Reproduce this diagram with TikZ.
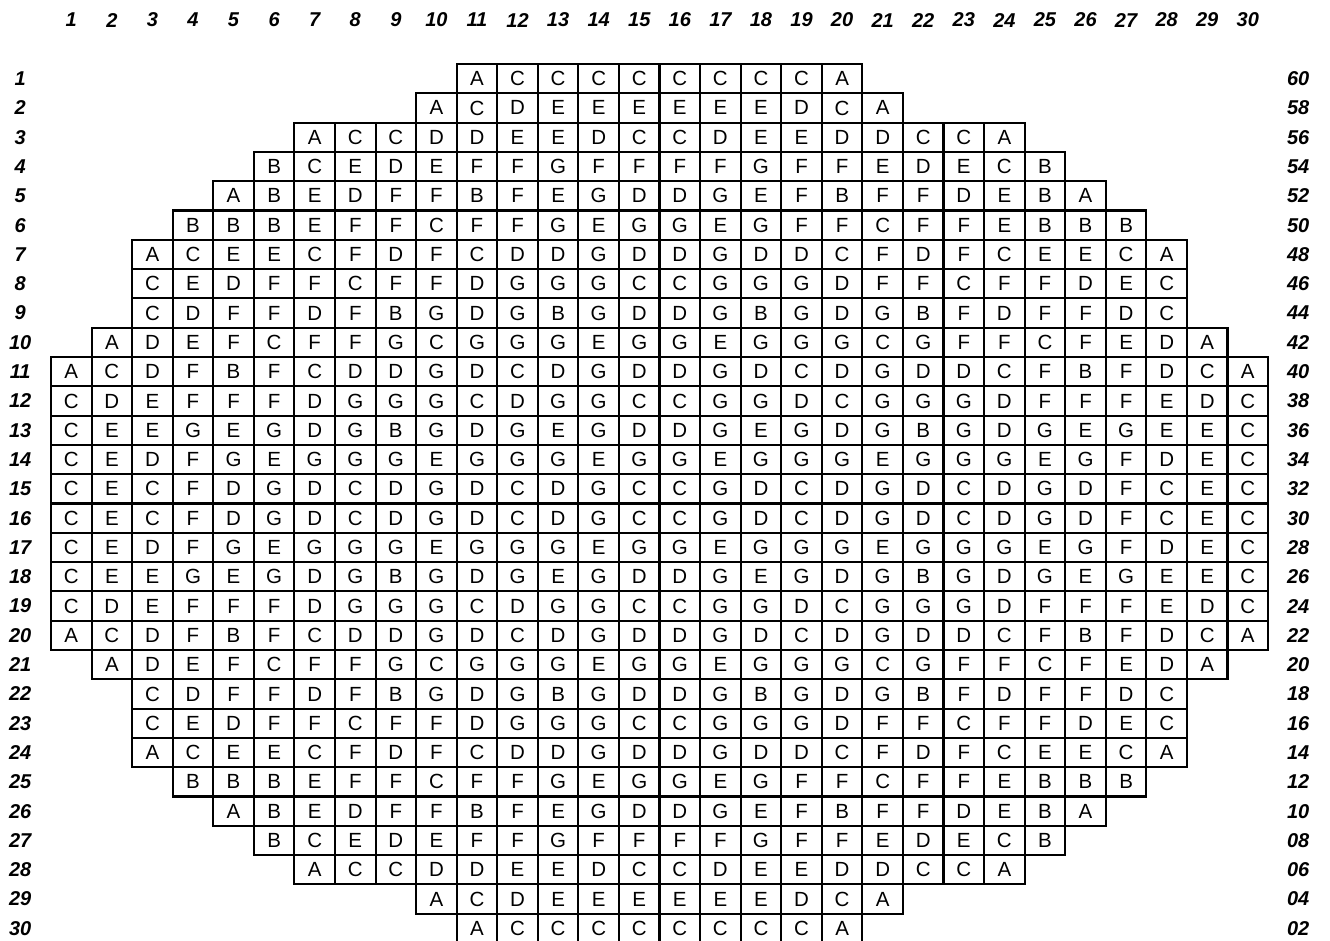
\documentclass[tikz,border=0pt]{standalone}
\usepackage{fontspec}
\setmainfont{Liberation Sans}
\usetikzlibrary{positioning}
\tikzset{
    cell/.style={rectangle, draw=black, line width=2.1pt, minimum width=40.57pt, minimum height=29.3pt, inner sep=0pt, text centered, font=\fontsize{20.5}{20.5}\selectfont},
    idx/.style={inner sep=0pt, text centered, font=\fontsize{20}{20}\selectfont\bfseries\itshape}
}
% one row of the core map: row, first column, letters
\newcommand{\cellrow}[3]{%
    \foreach \t [count=\k from #2] in {#3} {\node[cell] (cell-#1-\k) at (\k,#1) {\t};}%
}

\begin{document}
\begin{tikzpicture}[x=40.57pt, y=-29.3pt, shift={(30.7pt,-49.35pt)}]
        \useasboundingbox (-30.7pt,49.35pt) rectangle (1299.3pt,-891.65pt);
        % Column and row numbers
        \foreach \c in {1,...,30} {\node[idx] (top-\c) at (\c,-1) {\c};}
        \foreach \r in {1,...,30} {\node[idx] (left-\r) at (-0.26,\r) {\r};}
        \foreach \r in {1,...,30} {
            \pgfmathtruncatemacro{\n}{62-2*\r}
            \node[idx] (right-\r) at (31.24,\r) {\ifnum\n<10 0\fi\n};
        }
        % Cells
        \cellrow{1}{11}{A,C,C,C,C,C,C,C,C,A}
        \cellrow{2}{10}{A,C,D,E,E,E,E,E,E,D,C,A}
        \cellrow{3}{7}{A,C,C,D,D,E,E,D,C,C,D,E,E,D,D,C,C,A}
        \cellrow{4}{6}{B,C,E,D,E,F,F,G,F,F,F,F,G,F,F,E,D,E,C,B}
        \cellrow{5}{5}{A,B,E,D,F,F,B,F,E,G,D,D,G,E,F,B,F,F,D,E,B,A}
        \cellrow{6}{4}{B,B,B,E,F,F,C,F,F,G,E,G,G,E,G,F,F,C,F,F,E,B,B,B}
        \cellrow{7}{3}{A,C,E,E,C,F,D,F,C,D,D,G,D,D,G,D,D,C,F,D,F,C,E,E,C,A}
        \cellrow{8}{3}{C,E,D,F,F,C,F,F,D,G,G,G,C,C,G,G,G,D,F,F,C,F,F,D,E,C}
        \cellrow{9}{3}{C,D,F,F,D,F,B,G,D,G,B,G,D,D,G,B,G,D,G,B,F,D,F,F,D,C}
        \cellrow{10}{2}{A,D,E,F,C,F,F,G,C,G,G,G,E,G,G,E,G,G,G,C,G,F,F,C,F,E,D,A}
        \cellrow{11}{1}{A,C,D,F,B,F,C,D,D,G,D,C,D,G,D,D,G,D,C,D,G,D,D,C,F,B,F,D,C,A}
        \cellrow{12}{1}{C,D,E,F,F,F,D,G,G,G,C,D,G,G,C,C,G,G,D,C,G,G,G,D,F,F,F,E,D,C}
        \cellrow{13}{1}{C,E,E,G,E,G,D,G,B,G,D,G,E,G,D,D,G,E,G,D,G,B,G,D,G,E,G,E,E,C}
        \cellrow{14}{1}{C,E,D,F,G,E,G,G,G,E,G,G,G,E,G,G,E,G,G,G,E,G,G,G,E,G,F,D,E,C}
        \cellrow{15}{1}{C,E,C,F,D,G,D,C,D,G,D,C,D,G,C,C,G,D,C,D,G,D,C,D,G,D,F,C,E,C}
        \cellrow{16}{1}{C,E,C,F,D,G,D,C,D,G,D,C,D,G,C,C,G,D,C,D,G,D,C,D,G,D,F,C,E,C}
        \cellrow{17}{1}{C,E,D,F,G,E,G,G,G,E,G,G,G,E,G,G,E,G,G,G,E,G,G,G,E,G,F,D,E,C}
        \cellrow{18}{1}{C,E,E,G,E,G,D,G,B,G,D,G,E,G,D,D,G,E,G,D,G,B,G,D,G,E,G,E,E,C}
        \cellrow{19}{1}{C,D,E,F,F,F,D,G,G,G,C,D,G,G,C,C,G,G,D,C,G,G,G,D,F,F,F,E,D,C}
        \cellrow{20}{1}{A,C,D,F,B,F,C,D,D,G,D,C,D,G,D,D,G,D,C,D,G,D,D,C,F,B,F,D,C,A}
        \cellrow{21}{2}{A,D,E,F,C,F,F,G,C,G,G,G,E,G,G,E,G,G,G,C,G,F,F,C,F,E,D,A}
        \cellrow{22}{3}{C,D,F,F,D,F,B,G,D,G,B,G,D,D,G,B,G,D,G,B,F,D,F,F,D,C}
        \cellrow{23}{3}{C,E,D,F,F,C,F,F,D,G,G,G,C,C,G,G,G,D,F,F,C,F,F,D,E,C}
        \cellrow{24}{3}{A,C,E,E,C,F,D,F,C,D,D,G,D,D,G,D,D,C,F,D,F,C,E,E,C,A}
        \cellrow{25}{4}{B,B,B,E,F,F,C,F,F,G,E,G,G,E,G,F,F,C,F,F,E,B,B,B}
        \cellrow{26}{5}{A,B,E,D,F,F,B,F,E,G,D,D,G,E,F,B,F,F,D,E,B,A}
        \cellrow{27}{6}{B,C,E,D,E,F,F,G,F,F,F,F,G,F,F,E,D,E,C,B}
        \cellrow{28}{7}{A,C,C,D,D,E,E,D,C,C,D,E,E,D,D,C,C,A}
        \cellrow{29}{10}{A,C,D,E,E,E,E,E,E,D,C,A}
        \cellrow{30}{11}{A,C,C,C,C,C,C,C,C,A}
\end{tikzpicture}
\end{document}
